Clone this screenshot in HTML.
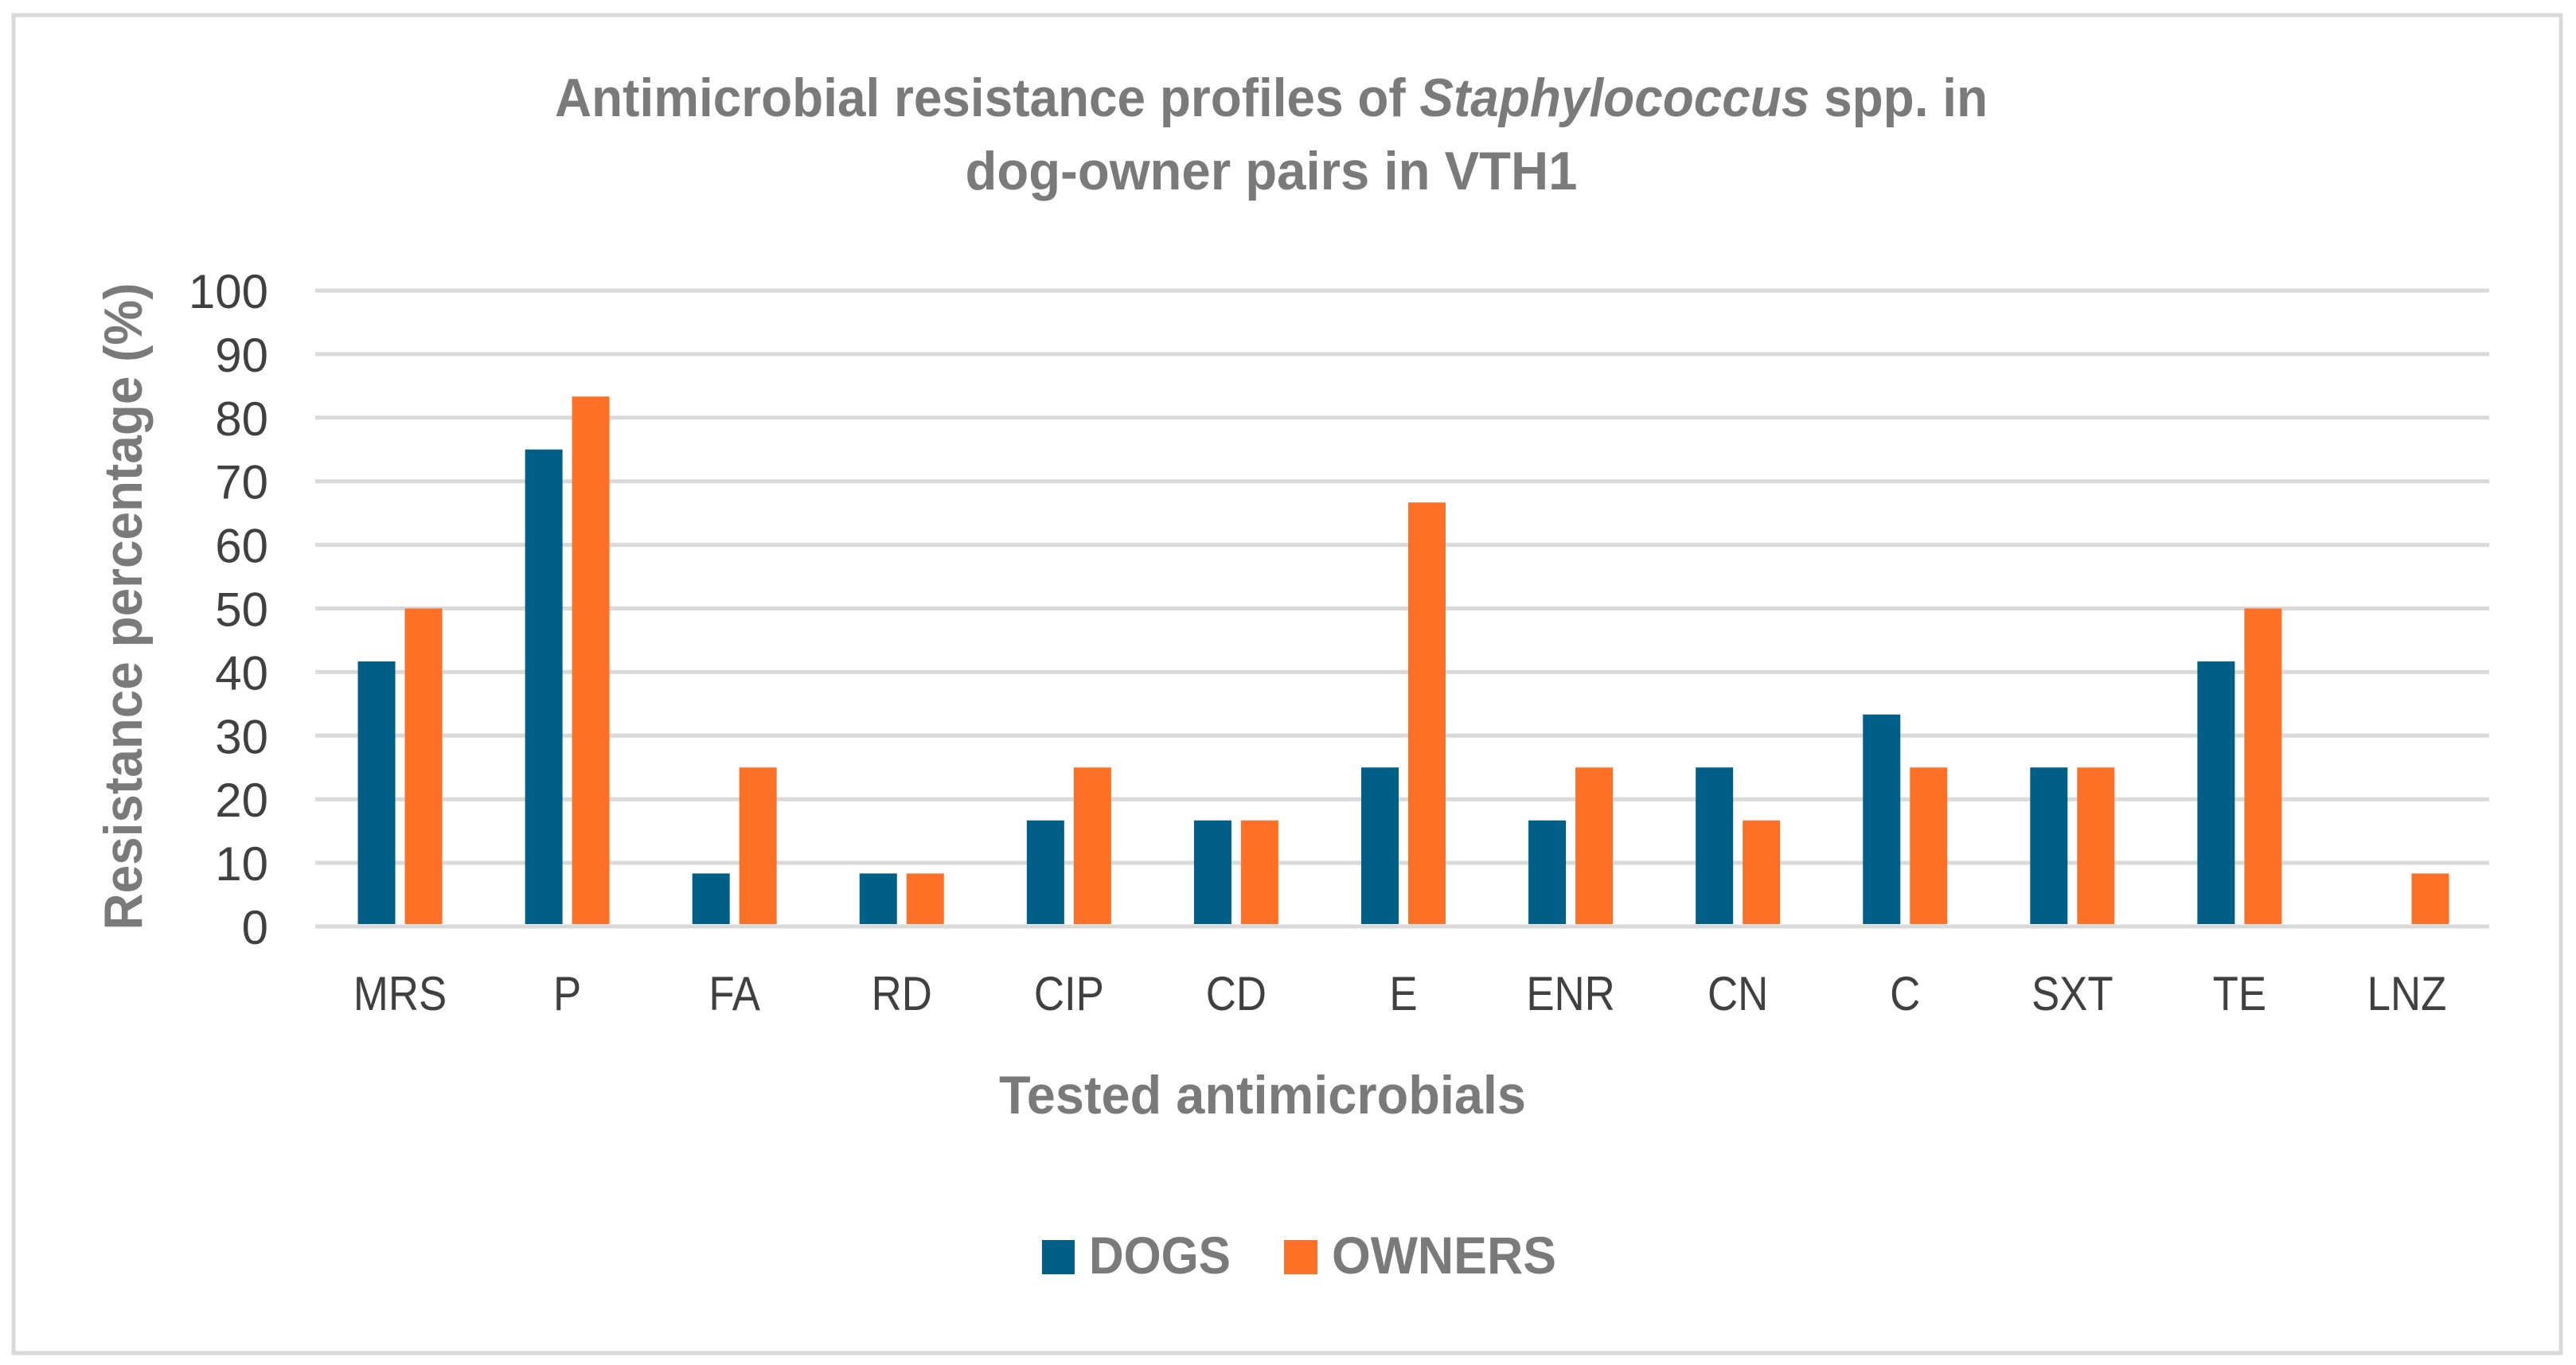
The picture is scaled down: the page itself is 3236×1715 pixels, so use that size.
<!DOCTYPE html>
<html lang="en">
<head>
<meta charset="utf-8">
<title>Antimicrobial resistance profiles</title>
<style>
html,body{margin:0;padding:0;background:#fff;width:3236px;height:1715px;overflow:hidden}
svg{display:block}
text{font-family:"Liberation Sans",sans-serif}
</style>
</head>
<body>
<svg id="chart" xmlns="http://www.w3.org/2000/svg" width="3236" height="1715" viewBox="0 0 3236 1715">
  <rect x="0" y="0" width="3236" height="1715" fill="#fff"/>
  <rect x="17" y="19" width="3200" height="1681" fill="#fff" stroke="#d9d9d9" stroke-width="5"/>
  <g id="plot"></g>
  <text x="1597" y="146" font-size="68" font-weight="700" fill="#7a7a7a" text-anchor="middle" textLength="1800" lengthAdjust="spacingAndGlyphs">Antimicrobial resistance profiles of <tspan font-style="italic">Staphylococcus</tspan> spp. in</text>
  <text x="1597" y="238" font-size="68" font-weight="700" fill="#7a7a7a" text-anchor="middle" textLength="769" lengthAdjust="spacingAndGlyphs">dog-owner pairs in VTH1</text>
  <text transform="translate(178,762) rotate(-90)" font-size="68" font-weight="700" fill="#7a7a7a" text-anchor="middle" textLength="813" lengthAdjust="spacingAndGlyphs">Resistance percentage (%)</text>
  <text x="1586" y="1399" font-size="68" font-weight="700" fill="#7a7a7a" text-anchor="middle" textLength="662" lengthAdjust="spacingAndGlyphs">Tested antimicrobials</text>
  <g>
    <rect x="1309" y="1558" width="41" height="43" fill="#005f86"/>
    <text x="1368" y="1600" font-size="66" font-weight="700" fill="#7a7a7a" textLength="178" lengthAdjust="spacingAndGlyphs">DOGS</text>
    <rect x="1613" y="1558" width="42" height="43" fill="#ff7027"/>
    <text x="1673" y="1600" font-size="66" font-weight="700" fill="#7a7a7a" textLength="282" lengthAdjust="spacingAndGlyphs">OWNERS</text>
  </g>
</svg>
<script>
const categories = ["MRS","P","FA","RD","CIP","CD","E","ENR","CN","C","SXT","TE","LNZ"];
const dogsValues = [41.67,75,8.33,8.33,16.67,16.67,25,16.67,25,33.33,25,41.67,0];
const ownersValues = [50,83.33,25,8.33,25,16.67,66.67,25,16.67,25,25,50,8.33];
const yTicks = [0,10,20,30,40,50,60,70,80,90,100];

const NS = "http://www.w3.org/2000/svg";
const plot = document.getElementById("plot");
const left = 396, right = 3127, top0 = 365, bottom0 = 1164;
const yScale = v => bottom0 - (v / 100) * (bottom0 - top0);
const band = (right - left) / categories.length;
const xCenter = i => left + 1.5 + band * (i + 0.5);
const barW = 47, barGap = 12;
const baseGap = 3;

function make(tag, attrs) {
  const el = document.createElementNS(NS, tag);
  for (const k in attrs) el.setAttribute(k, attrs[k]);
  return el;
}

yTicks.forEach(t => {
  const line = make("line", {x1:left, x2:right, y1:yScale(t), y2:yScale(t), stroke:"#d9d9d9", "stroke-width":5});
  
  
  plot.appendChild(line);
  const label = make("text", {x:337, y:yScale(t)+22, "font-size":60, fill:"#404040", "text-anchor":"end"});
  label.textContent = t;
  
  
  plot.appendChild(label);
});

categories.forEach((c, i) => {
  const key = c.toLowerCase();
  const dh = Math.max(0, bottom0 - baseGap - yScale(dogsValues[i]));
  const d = make("rect", {x:xCenter(i)-barGap/2-barW, y:yScale(dogsValues[i]), width:barW, height:dh, fill:"#005f86"});
  
  
  plot.appendChild(d);
  const oh = Math.max(0, bottom0 - baseGap - yScale(ownersValues[i]));
  const o = make("rect", {x:xCenter(i)+barGap/2, y:yScale(ownersValues[i]), width:barW, height:oh, fill:"#ff7027"});
  
  
  plot.appendChild(o);
  const label = make("text", {x:xCenter(i), y:1269, "font-size":60, fill:"#404040", "text-anchor":"middle", lengthAdjust:"spacingAndGlyphs"});
  label.textContent = c;
  
  
  plot.appendChild(label);
  label.setAttribute("textLength", label.getComputedTextLength() * 0.88);
});
</script>
</body>
</html>
